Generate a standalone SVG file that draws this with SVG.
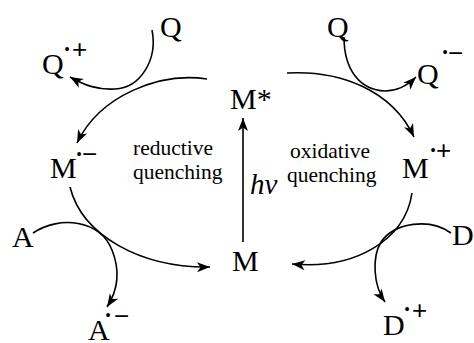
<svg xmlns="http://www.w3.org/2000/svg" width="474" height="343" viewBox="0 0 474 343">
<defs>
<marker id="ah" markerUnits="userSpaceOnUse" markerWidth="16" markerHeight="14" viewBox="-14 -7 16 14" refX="0" refY="0" orient="auto">
<path d="M0,0 L-13,-5 L-9.5,0 L-13,5 Z" fill="#000"/>
</marker>
</defs>
<style>
text{fill:#000}
.lab{font-family:"Liberation Serif",Tinos,"Times New Roman",Times,"Nimbus Roman","DejaVu Serif",serif;font-size:30px}
.sup{font-family:"Liberation Sans",Arimo,Arial,"DejaVu Sans",sans-serif;font-size:26px}
.dot{font-family:"Liberation Serif",Tinos,"Times New Roman",Times,"DejaVu Serif",serif;font-size:16px}
.small{font-family:"Liberation Serif",Tinos,"Times New Roman",Times,"Nimbus Roman","DejaVu Serif",serif;font-size:21.5px}
.hv{font-family:"Liberation Serif",Tinos,"Times New Roman",Times,"Nimbus Roman","DejaVu Serif",serif;font-size:29px;font-style:italic}
.c{fill:none;stroke:#000;stroke-width:1.6}
</style>
<g id="connectors">
<path class="c" d="M207,79 C160,72 100,95 77,143" marker-end="url(#ah)"/>
<path class="c" d="M152,30 C158,60 140,88 115,89 C97,90 84,85 70,77" marker-end="url(#ah)"/>
<path class="c" d="M70,187 C82,235 140,268 210,267" marker-end="url(#ah)"/>
<path class="c" d="M33,233 C60,215 100,220 112,250 C120,270 118,290 107,307" marker-end="url(#ah)"/>
<path class="c" d="M287,73 C340,70 392,90 414,137" marker-end="url(#ah)"/>
<path class="c" d="M344,37 C344,70 360,90 385,91 C398,91 408,85 416,77" marker-end="url(#ah)"/>
<path class="c" d="M412,193 C405,240 355,270 292,264" marker-end="url(#ah)"/>
<path class="c" d="M451,233 C430,218 395,222 381,242 C372,257 373,285 385,302" marker-end="url(#ah)"/>
<path class="c" d="M243,242 L243,118" marker-end="url(#ah)"/>
</g>
<g id="Mstar"><text class="lab" x="230" y="109">M*</text></g>
<g id="M"><text class="lab" x="232" y="271">M</text></g>
<g id="Mminus"><text class="lab" x="50" y="178">M</text><text class="dot" x="76.2" y="160.3">•</text><text class="sup" x="82" y="163.4">−</text></g>
<g id="Mplus"><text class="lab" x="402" y="178">M</text><text class="dot" x="430.2" y="156.3">•</text><text class="sup" x="436" y="159.4">+</text></g>
<g id="QL"><text class="lab" x="160" y="37">Q</text></g>
<g id="QLplus"><text class="lab" x="42" y="74">Q</text><text class="dot" x="64.2" y="55.3">•</text><text class="sup" x="72" y="58.4">+</text></g>
<g id="QR"><text class="lab" x="327" y="37">Q</text></g>
<g id="QRminus"><text class="lab" x="417" y="84">Q</text><text class="dot" x="442.2" y="58.3">•</text><text class="sup" x="448" y="62.4">−</text></g>
<g id="A"><text class="lab" x="12" y="247">A</text></g>
<g id="Aminus"><text class="lab" x="88" y="340">A</text><text class="dot" x="105.2" y="321.3">•</text><text class="sup" x="114" y="325.4">−</text></g>
<g id="D"><text class="lab" x="452" y="245">D</text></g>
<g id="Dplus"><text class="lab" x="383" y="335">D</text><text class="dot" x="404.2" y="315.3">•</text><text class="sup" x="412" y="319.4">+</text></g>
<g id="reductive"><text class="small" x="133" y="155">reductive</text><text class="small" x="133" y="179">quenching</text></g>
<g id="oxidative"><text class="small" x="290" y="158">oxidative</text><text class="small" x="287" y="182">quenching</text></g>
<g id="hv"><text class="hv" x="250" y="194">hν</text></g>
</svg>
